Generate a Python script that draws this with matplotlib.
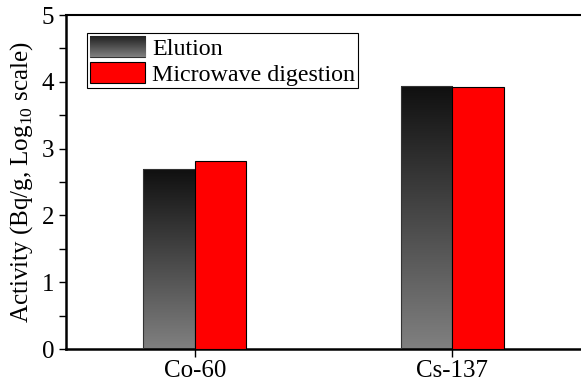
import numpy as np
import matplotlib
matplotlib.use("Agg")
import matplotlib.pyplot as plt
from matplotlib.colors import LinearSegmentedColormap
from matplotlib.image import BboxImage
from matplotlib.transforms import Bbox, TransformedBbox
from matplotlib.ticker import MultipleLocator

plt.rcParams['font.family'] = ['Liberation Serif', 'DejaVu Serif']
plt.rcParams['mathtext.fontset'] = 'custom'
plt.rcParams['mathtext.rm'] = 'Liberation Serif'

# data (Log10 activity, Bq/g)
isotopes = ["Co-60", "Cs-137"]
elution = [2.69, 3.93]
microwave = [2.81, 3.92]
labels = ["Elution", "Microwave digestion"]

# gray gradient: dark at top, mid gray at bottom
grad = LinearSegmentedColormap.from_list("grad", ["#808080", "#101010"])
col = np.linspace(0, 1, 256).reshape(-1, 1)

fig = plt.figure(figsize=(5.81, 3.85), dpi=100)
ax = fig.add_axes([66 / 581, 36 / 385, 1 - 66 / 581, 334 / 385])

x = np.arange(len(isotopes))
w = 0.2
b1 = ax.bar(x - w / 2, elution, w, facecolor="none", edgecolor="#333333", linewidth=0.8, zorder=3)
b2 = ax.bar(x + w / 2, microwave, w, color="#ff0000", edgecolor="black", linewidth=0.8, zorder=3)

# fill elution bars with the vertical gradient
for bar in b1:
    x0, h = bar.get_x(), bar.get_height()
    im = ax.imshow(col, cmap=grad, origin="lower", aspect="auto",
                   extent=[x0, x0 + w, 0, h], zorder=2)
    im.set_clip_path(bar)

ax.set_xlim(-0.5, 1.5)
ax.set_ylim(0, 5)
ax.set_xticks(x)
ax.set_xticklabels(isotopes)
ax.yaxis.set_major_locator(MultipleLocator(1))
ax.yaxis.set_minor_locator(MultipleLocator(0.5))
ax.tick_params(axis="both", labelsize=18, direction="out", width=1, length=5)
ax.tick_params(axis="y", which="minor", length=5, width=1)
ax.tick_params(axis="x", length=6, pad=2)
for s in ["left", "bottom"]:
    ax.spines[s].set_linewidth(1.8)
ax.spines["top"].set_linewidth(1.5)
ax.spines["right"].set_visible(False)

ax.set_ylabel(r"Activity (Bq/g, Log$_{10}$ scale)", fontsize=18, labelpad=5)

leg = ax.legend([b1[0], b2[0]], labels, loc="upper left", bbox_to_anchor=(0.041, 0.946),
                borderaxespad=0, fontsize=17.3, fancybox=False, edgecolor="black",
                framealpha=1, handlelength=2.3, handleheight=0.95, labelspacing=0.1,
                borderpad=0.12, handletextpad=0.3)
leg.get_frame().set_linewidth(0.8)
h0 = leg.legend_handles[0]
h0.set_facecolor("#808080")
h0.set_edgecolor("#333333")
bb = TransformedBbox(Bbox.unit(), h0.get_transform())
gim = BboxImage(bb, cmap=LinearSegmentedColormap.from_list("g2", ["#808080", "#202020"]),
                origin="lower", zorder=10)
gim.set_data(col)
gim.set_clip_on(False)
ax.add_artist(gim)

fig.savefig("out.png", dpi=100)
